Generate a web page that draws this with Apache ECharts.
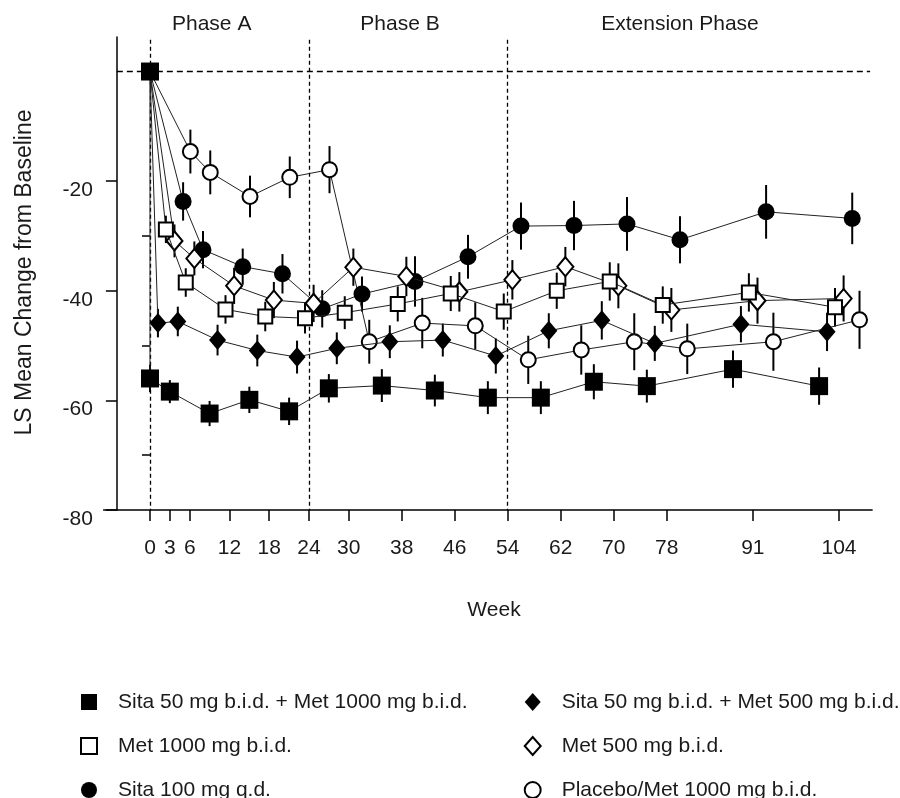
<!DOCTYPE html>
<html>
<head>
<meta charset="utf-8">
<script src="https://cdn.jsdelivr.net/npm/echarts@6/dist/echarts.min.js"></script>
<style>
html,body{margin:0;padding:0;background:#fff;}
#chart{width:900px;height:798px;}
</style>
</head>
<body>
<div id="chart"></div>
<script>
// ---- data ----
const weeks = [3, 6, 12, 18, 24, 30, 38, 46, 54, 62, 70, 78, 91, 104];
const xTickWeeks = [0, 3, 6, 12, 18, 24, 30, 38, 46, 54, 62, 70, 78, 91, 104];
const yTickLabels = [-80, -60, -40, -20];
const yMinorTicks = [-70, -50, -30];
const phaseStarts = [0, 24, 54];
const phaseNames = ['Phase A', 'Phase B', 'Extension Phase'];
const seriesNames = [
  'Sita 50 mg b.i.d. + Met 1000 mg b.i.d.',
  'Met 1000 mg b.i.d.',
  'Sita 100 mg q.d.',
  'Sita 50 mg b.i.d. + Met 500 mg b.i.d.',
  'Met 500 mg b.i.d.',
  'Placebo/Met 1000 mg b.i.d.'
];
const sita50met1000 = [-56.0, -58.4, -62.4, -59.9, -62.0, -57.8, -57.3, -58.2, -59.5, -59.5, -56.6, -57.4, -54.3, -57.4];
const sita50met1000Err = [2.5, 2.1, 2.3, 2.4, 2.5, 2.6, 3.0, 2.9, 3.0, 3.0, 3.2, 3.0, 3.4, 3.4];
const met1000 = [-28.8, -38.5, -43.4, -44.7, -45.0, -44.0, -42.4, -40.5, -43.8, -40.0, -38.3, -42.6, -40.3, -43.0];
const met1000Err = [2.5, 2.6, 2.6, 2.7, 2.8, 3.0, 3.2, 3.2, 3.3, 3.3, 3.5, 3.4, 3.5, 3.5];
const sita100 = [-23.7, -32.5, -35.6, -36.9, -43.3, -40.6, -38.3, -33.8, -28.2, -28.1, -27.8, -30.7, -25.6, -26.8];
const sita100Err = [3.5, 3.4, 3.3, 3.6, 3.4, 3.2, 4.6, 4.0, 4.3, 4.5, 4.9, 4.3, 4.9, 4.7];
const sita50met500 = [-45.9, -45.6, -49.0, -50.9, -52.1, -50.5, -49.3, -49.0, -51.9, -47.3, -45.4, -49.6, -46.1, -47.5];
const sita50met500Err = [2.6, 2.7, 2.8, 2.9, 3.0, 2.9, 3.0, 3.0, 3.2, 3.2, 3.5, 3.2, 3.3, 3.5];
const met500 = [-30.9, -34.1, -39.1, -41.7, -42.3, -35.7, -37.4, -40.2, -38.0, -35.6, -39.1, -43.5, -41.8, -41.4];
const met500Err = [3.0, 3.1, 3.3, 3.3, 3.4, 3.4, 3.6, 3.6, 3.6, 3.6, 4.1, 4.0, 4.2, 4.2];
const placeboMet1000 = [-14.6, -18.4, -22.8, -19.3, -17.9, -49.3, -45.9, -46.4, -52.6, -50.8, -49.3, -50.6, -49.3, -45.3];
const placeboMet1000Err = [4.0, 4.0, 3.8, 3.8, 4.3, 4.0, 4.6, 4.3, 4.4, 4.5, 5.2, 4.6, 5.3, 5.3];

// ---- presentation ----
const FONT = '"Liberation Sans", Arial, Helvetica, sans-serif';
const TXT = '#1a1a1a';
const specs = [
  // order of drawing: filled square last so the baseline square is on top
  {name: seriesNames[5], vals: placeboMet1000, err: placeboMet1000Err, dodge: 3.1, symbol: 'circle', size: 15, open: true},
  {name: seriesNames[2], vals: sita100, err: sita100Err, dodge: 2.0, symbol: 'circle', size: 17, open: false},
  {name: seriesNames[4], vals: met500, err: met500Err, dodge: 0.7, symbol: 'diamond', size: [16, 19], open: true},
  {name: seriesNames[1], vals: met1000, err: met1000Err, dodge: -0.6, symbol: 'rect', size: 14, open: true},
  {name: seriesNames[3], vals: sita50met500, err: sita50met500Err, dodge: -1.8, symbol: 'diamond', size: [17, 20], open: false},
  {name: seriesNames[0], vals: sita50met1000, err: sita50met1000Err, dodge: -3.0, symbol: 'rect', size: 18, open: false}
];

const series = [];
specs.forEach((s, si) => {
  const itemStyle = s.open
    ? {color: '#fff', borderColor: '#000', borderWidth: 2}
    : {color: '#000', borderColor: '#000', borderWidth: 0};
  const isTop = si === specs.length - 1;
  const data = [{value: [0, 0], symbol: isTop ? 'rect' : 'none'}];
  s.vals.forEach((v, i) => data.push({value: [weeks[i] + s.dodge, v]}));
  const errData = s.vals.map((v, i) => [weeks[i] + s.dodge, v - s.err[i], v + s.err[i]]);
  series.push({
    type: 'custom',
    name: s.name + ' err',
    xAxisIndex: 0, yAxisIndex: 0,
    z: 2,
    silent: true,
    encode: {x: 0, y: [1, 2]},
    data: errData,
    renderItem: function (params, api) {
      const a = api.coord([api.value(0), api.value(2)]);
      const b = api.coord([api.value(0), api.value(1)]);
      return {type: 'line', shape: {x1: a[0], y1: a[1], x2: b[0], y2: b[1]},
        style: {stroke: '#000', lineWidth: 2}};
    }
  });
  const ls = {
    type: 'line',
    name: s.name,
    xAxisIndex: 0, yAxisIndex: 0,
    z: 3 + si,
    data: data,
    symbol: s.symbol,
    symbolSize: s.size,
    showAllSymbol: true,
    animation: false,
    lineStyle: {color: '#222', width: 1},
    itemStyle: itemStyle,
    emphasis: {disabled: true}
  };
  if (si === 0) {
    ls.markLine = {
      silent: true,
      symbol: ['none', 'none'],
      label: {show: false},
      animation: false,
      data: [
        [{coord: [-5, 0], lineStyle: {type: [6, 4], width: 1.3, color: '#000'}},
         {coord: [108.7, 0]}]
      ].concat(phaseStarts.map(w => [
        {coord: [w, 5.8], lineStyle: {type: [4, 3], width: 1.3, color: '#000'}},
        {coord: [w, -80]}
      ]))
    };
  }
  series.push(ls);
});

const chart = echarts.init(document.getElementById('chart'), null, {renderer: 'canvas'});

const legendCommon = {
  orient: 'vertical',
  top: 691.5,
  height: 140,
  padding: 0,
  itemWidth: 16,
  itemHeight: 18,
  itemGap: 23,
  selectedMode: false,
  symbolKeepAspect: true,
  textStyle: {fontFamily: FONT, fontSize: 21, color: TXT, padding: [0, 0, 0, 16]}
};
const SQ = 'path://M0,0H10V10H0Z';

const phaseCenters = [211.7, 400, 680];

chart.setOption({
  animation: false,
  backgroundColor: '#fff',
  grid: {left: 103.6, top: 37, width: 768.5, height: 473},
  xAxis: {
    type: 'value', min: -7, max: 109,
    axisLine: {show: true, onZero: false, lineStyle: {color: '#000', width: 1.5}},
    axisTick: {show: true, length: 11, customValues: xTickWeeks, lineStyle: {color: '#000', width: 1.5}},
    axisLabel: {show: true, customValues: xTickWeeks, margin: 28, fontFamily: FONT, fontSize: 21, color: TXT},
    splitLine: {show: false}
  },
  yAxis: [{
    type: 'value', min: -80, max: 6.3, position: 'left', offset: -13.3,
    axisLine: {show: true, onZero: false, lineStyle: {color: '#000', width: 1.5}},
    axisTick: {show: true, length: 11, customValues: yTickLabels, lineStyle: {color: '#000', width: 1.5}},
    axisLabel: {show: true, customValues: yTickLabels, margin: 24, verticalAlign: 'top', lineHeight: 18,
      fontFamily: FONT, fontSize: 21, color: TXT},
    splitLine: {show: false}
  }, {
    type: 'value', min: -80, max: 6.3, position: 'left', offset: -13.3,
    axisLine: {show: false},
    axisTick: {show: true, length: 8, customValues: yMinorTicks, lineStyle: {color: '#000', width: 1.5}},
    axisLabel: {show: false},
    splitLine: {show: false}
  }],
  legend: [
    Object.assign({}, legendCommon, {
      left: 80,
      data: [
        {name: seriesNames[0], icon: SQ},
        {name: seriesNames[1], icon: SQ},
        {name: seriesNames[2], icon: 'circle'}
      ]
    }),
    Object.assign({}, legendCommon, {
      left: 523.7,
      data: [
        {name: seriesNames[3], icon: 'diamond'},
        {name: seriesNames[4], icon: 'diamond'},
        {name: seriesNames[5], icon: 'circle'}
      ]
    })
  ],
  graphic: [
    ...phaseNames.map((t, i) => ({
      type: 'text', x: phaseCenters[i], y: 24, silent: true,
      style: {text: t, font: '21px ' + FONT, fill: TXT, align: 'center', verticalAlign: 'middle'}
    })),
    {type: 'text', x: 494, y: 610, silent: true,
      style: {text: 'Week', font: '21px ' + FONT, fill: TXT, align: 'center', verticalAlign: 'middle'}},
    {type: 'text', x: 25, y: 272.5, rotation: Math.PI / 2, silent: true,
      style: {text: 'LS Mean Change from Baseline', font: '23px ' + FONT, fill: TXT, align: 'center', verticalAlign: 'middle'}}
  ],
  series: series
});
</script>
</body>
</html>
